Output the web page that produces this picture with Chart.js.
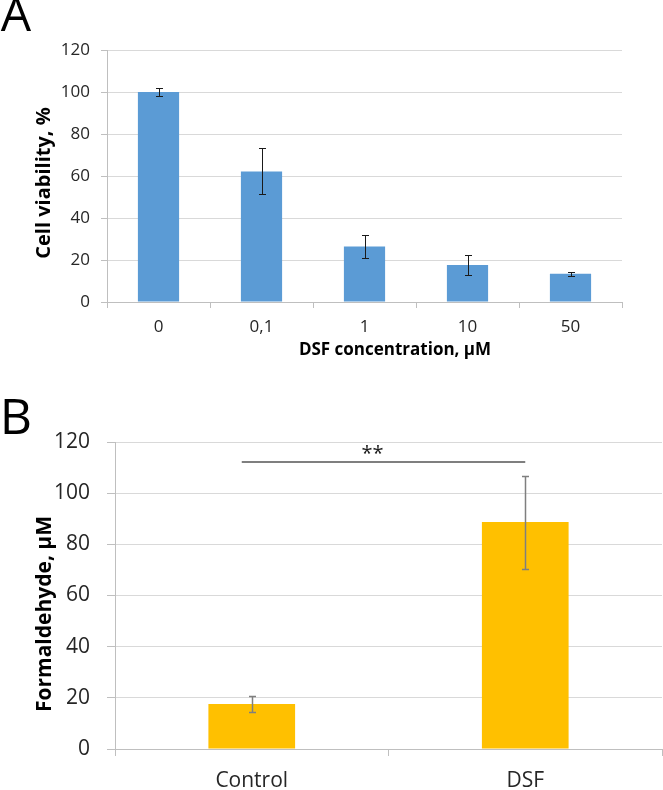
<!DOCTYPE html>
<html><head><meta charset="utf-8">
<script src="https://cdn.jsdelivr.net/npm/chart.js@4"></script>
<style>
html,body{margin:0;padding:0;background:#fff;overflow:hidden;}
#wrapA{position:absolute;left:0;top:0;width:663px;height:380px;}
#wrapB{position:absolute;left:0;top:380px;width:663px;height:410px;}
</style></head><body>
<div id="wrapA"><canvas id="chartA"></canvas></div>
<div id="wrapB"><canvas id="chartB"></canvas></div>
<script>
// ---- Data: panel A ----
const concLabels = ['0', '0,1', '1', '10', '50'];
const viability = [100, 62.2, 26.4, 17.6, 13.4];
const viabilityErr = [1.9, 11, 5.5, 4.6, 1.1];
const viabilityTicks = [0, 20, 40, 60, 80, 100, 120];

// ---- Data: panel B ----
const groupLabels = ['Control', 'DSF'];
const formaldehyde = [17.6, 88.7];
const formaldehydeErr = [3.1, 18.2];
const formaldehydeTicks = [0, 20, 40, 60, 80, 100, 120];
const sigFrom = 0, sigTo = 1, sigLevel = 112, sigText = '**';

const FONT = "'Open Sans', 'Liberation Sans', sans-serif";

const errorBars = {
  id: 'errorBars',
  afterDatasetsDraw(chart, args, opts) {
    const {ctx} = chart;
    const y = chart.scales.y;
    const ds = chart.data.datasets[0];
    const meta = chart.getDatasetMeta(0);
    ctx.save();
    ctx.strokeStyle = opts.color;
    ctx.lineWidth = opts.width;
    meta.data.forEach((bar, i) => {
      const v = ds.data[i], e = opts.errors[i];
      const cx = Math.round(bar.x) + 0.5;
      const yt = Math.round(y.getPixelForValue(v + e)) + 0.5;
      const yb = Math.round(y.getPixelForValue(v - e)) + 0.5;
      ctx.beginPath();
      ctx.moveTo(cx, yt); ctx.lineTo(cx, yb);
      ctx.moveTo(cx - opts.cap, yt); ctx.lineTo(cx + opts.cap, yt);
      ctx.moveTo(cx - opts.cap, yb); ctx.lineTo(cx + opts.cap, yb);
      ctx.stroke();
    });
    ctx.restore();
  }
};

const freeText = {
  id: 'freeText',
  afterDraw(chart, args, opts) {
    const ctx = chart.ctx;
    (opts.items || []).forEach(t => {
      ctx.save();
      ctx.font = t.font;
      ctx.fillStyle = t.color || '#000';
      ctx.textAlign = 'center';
      ctx.textBaseline = 'middle';
      ctx.translate(t.x, t.y);
      ctx.rotate(t.rot || 0);
      ctx.fillText(t.text, 0, 0);
      ctx.restore();
    });
  }
};

const sigBracket = {
  id: 'sigBracket',
  afterDatasetsDraw(chart, args, opts) {
    if (!opts.show) return;
    const {ctx} = chart;
    const x = chart.scales.x, y = chart.scales.y;
    const x0 = x.getPixelForValue(sigFrom) - 10;
    const x1 = x.getPixelForValue(sigTo);
    const yy = Math.round(y.getPixelForValue(sigLevel));
    ctx.save();
    ctx.strokeStyle = '#7f7f7f';
    ctx.lineWidth = 2;
    ctx.beginPath(); ctx.moveTo(x0, yy); ctx.lineTo(x1, yy); ctx.stroke();
    ctx.fillStyle = '#1a1a1a';
    ctx.font = "20px " + FONT;
    ctx.textAlign = 'center';
    ctx.textBaseline = 'middle';
    ctx.fillText(sigText, (x0 + x1) / 2 - 11, yy - 8);
    ctx.restore();
  }
};

function makeOpts(cfg) {
  return {
    responsive: true,
    maintainAspectRatio: false,
    animation: false,
    events: [],
    layout: {padding: cfg.padding},
    plugins: {
      legend: {display: false},
      tooltip: {enabled: false},
      errorBars: {errors: cfg.errors, color: cfg.errColor, width: cfg.errWidth, cap: cfg.cap},
      freeText: {items: cfg.texts},
      sigBracket: {show: !!cfg.sig}
    },
    scales: {
      x: {
        type: 'category',
        afterFit: s => { s.height = cfg.xHeight; },
        grid: {display: true, offset: true, drawOnChartArea: false, drawTicks: true,
               tickLength: cfg.xTickLen, tickColor: '#bfbfbf', color: '#bfbfbf'},
        border: {display: true, color: '#bfbfbf', width: 1},
        ticks: {color: '#262626', font: {family: FONT, size: cfg.tickSize}, padding: cfg.xPad,
                maxRotation: 0, autoSkip: false}
      },
      y: {
        min: 0, max: 120,
        afterFit: s => { s.width = cfg.yWidth; },
        afterBuildTicks: s => { s.ticks = cfg.yTicks.map(v => ({value: v})); },
        grid: {color: '#d9d9d9', drawTicks: true, tickLength: cfg.yTickLen, tickColor: '#bfbfbf'},
        border: {display: true, color: '#bfbfbf', width: 1},
        ticks: {color: '#262626', font: {family: FONT, size: cfg.tickSize}, padding: cfg.yPad}
      }
    }
  };
}

new Chart(document.getElementById('chartA'), {
  type: 'bar',
  data: {
    labels: concLabels,
    datasets: [{data: viability, backgroundColor: '#5b9bd5', barPercentage: 0.4, categoryPercentage: 1}]
  },
  options: makeOpts({
    padding: {left: 0, top: 50, right: 41, bottom: 0},
    xHeight: 78, yWidth: 107, xTickLen: 6, yTickLen: 6, xPad: 9, yPad: 11,
    tickSize: 17, errors: viabilityErr, errColor: '#1a1a1a', errWidth: 1, cap: 3.5,
    yTicks: viabilityTicks,
    texts: [
      {text: 'A', x: 16, y: 17, font: "48px " + FONT},
      {text: 'Cell viability, %', x: 44, y: 183, rot: -Math.PI / 2, font: "bold 20px " + FONT},
      {text: 'DSF concentration, μM', x: 395, y: 350, font: "bold 17px " + FONT}
    ]
  }),
  plugins: [errorBars, freeText]
});

new Chart(document.getElementById('chartB'), {
  type: 'bar',
  data: {
    labels: groupLabels,
    datasets: [{data: formaldehyde, backgroundColor: '#ffc000', barPercentage: 0.317, categoryPercentage: 1}]
  },
  options: makeOpts({
    padding: {left: 0, top: 62, right: 1, bottom: 0},
    xHeight: 41, yWidth: 115, xTickLen: 7, yTickLen: 8, xPad: 12, yPad: 17,
    tickSize: 21, errors: formaldehydeErr, errColor: '#7f7f7f', errWidth: 1.5, cap: 3.5,
    yTicks: formaldehydeTicks, sig: true,
    texts: [
      {text: 'B', x: 16, y: 40, font: "50px " + FONT},
      {text: 'Formaldehyde, μM', x: 45, y: 234, rot: -Math.PI / 2, font: "bold 21px " + FONT}
    ]
  }),
  plugins: [errorBars, freeText, sigBracket]
});
</script>
</body></html>
